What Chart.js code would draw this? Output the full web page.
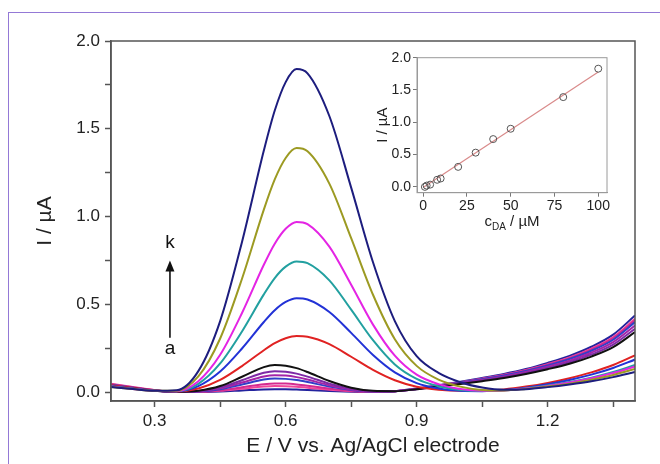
<!DOCTYPE html>
<html>
<head>
<meta charset="utf-8">
<script src="https://cdn.jsdelivr.net/npm/chart.js@4.4.1/dist/chart.umd.min.js"></script>
<style>
  html, body { margin: 0; padding: 0; background: #fff; }
  #wrap { position: relative; width: 660px; height: 464px; overflow: hidden; }
  #frame { position: absolute; left: 8px; top: 12px; width: 700px; height: 520px;
           border: 1.5px solid #9479d6; box-sizing: border-box; pointer-events: none; }
  #main { position: absolute; left: 0; top: 0; }
  #inset { position: absolute; left: 360px; top: 40px; }
</style>
</head>
<body>
<div id="wrap">
  <div id="frame"></div>
  <canvas id="main" width="660" height="464"></canvas>
  <canvas id="inset" width="260" height="200"></canvas>
</div>
<script>
// ---------- data ----------
const E = [0.20,0.25,0.30,0.35,0.40,0.45,0.50,0.55,0.575,0.60,0.625,0.65,0.70,0.75,0.80,0.85,0.90,0.95,1.00,1.05,1.10,1.15,1.20,1.25,1.30,1.35,1.40];

const curveBlank = [0.038,0.024,0.010,0.002,0.001,0.004,0.010,0.016,0.017,0.017,0.015,0.013,0.007,0.003,0.001,0.006,0.021,0.040,0.060,0.081,0.104,0.132,0.167,0.207,0.259,0.328,0.437];
const curvePink  = [0.048,0.030,0.012,0.002,0.002,0.008,0.020,0.032,0.035,0.034,0.031,0.026,0.014,0.006,0.002,0.006,0.020,0.039,0.057,0.077,0.099,0.127,0.160,0.198,0.248,0.314,0.418];
const curveA = [0.045,0.028,0.011,0.002,0.003,0.011,0.028,0.046,0.050,0.049,0.044,0.037,0.021,0.008,0.003,0.006,0.019,0.038,0.056,0.076,0.097,0.124,0.157,0.194,0.243,0.308,0.410];
const curveB = [0.042,0.026,0.010,0.002,0.004,0.017,0.044,0.072,0.078,0.076,0.069,0.058,0.032,0.013,0.004,0.006,0.019,0.037,0.055,0.074,0.095,0.121,0.152,0.189,0.236,0.299,0.399];
const curveC = [0.040,0.025,0.010,0.002,0.005,0.022,0.055,0.090,0.097,0.095,0.086,0.072,0.040,0.016,0.005,0.006,0.018,0.035,0.052,0.070,0.090,0.115,0.145,0.180,0.225,0.285,0.380];
const curveD = [0.037,0.023,0.009,0.003,0.007,0.027,0.068,0.111,0.120,0.117,0.106,0.089,0.049,0.020,0.006,0.006,0.017,0.033,0.049,0.067,0.086,0.109,0.138,0.171,0.214,0.271,0.361];
const curveE = [0.035,0.022,0.009,0.003,0.009,0.035,0.088,0.143,0.155,0.151,0.137,0.115,0.064,0.026,0.008,0.006,0.017,0.032,0.047,0.063,0.081,0.104,0.131,0.162,0.203,0.257,0.342];
const curveF = [0.040,0.024,0.010,0.004,0.021,0.070,0.149,0.239,0.279,0.307,0.320,0.316,0.274,0.202,0.127,0.068,0.031,0.014,0.008,0.008,0.016,0.032,0.053,0.080,0.113,0.155,0.210];
const curveG = [0.035,0.021,0.009,0.005,0.035,0.118,0.249,0.400,0.467,0.514,0.535,0.528,0.457,0.338,0.212,0.113,0.052,0.021,0.008,0.006,0.012,0.026,0.046,0.070,0.100,0.138,0.186];
const curveH = [0.033,0.020,0.008,0.006,0.048,0.164,0.346,0.557,0.650,0.715,0.745,0.735,0.637,0.470,0.296,0.158,0.076,0.034,0.013,0.007,0.010,0.022,0.038,0.058,0.083,0.115,0.155];
const curveI = [0.032,0.019,0.008,0.006,0.063,0.213,0.451,0.726,0.846,0.931,0.970,0.957,0.829,0.612,0.385,0.208,0.100,0.046,0.018,0.009,0.010,0.021,0.036,0.055,0.079,0.109,0.147];
const curveJ = [0.030,0.018,0.008,0.009,0.090,0.306,0.646,1.040,1.212,1.334,1.390,1.372,1.188,0.877,0.555,0.302,0.150,0.072,0.032,0.013,0.010,0.019,0.032,0.049,0.071,0.098,0.132];
const curveK = [0.030,0.018,0.008,0.011,0.120,0.405,0.856,1.376,1.604,1.766,1.840,1.816,1.573,1.165,0.740,0.405,0.205,0.110,0.057,0.027,0.014,0.017,0.029,0.044,0.062,0.086,0.115];

const xTickPositions = [0.3, 0.45, 0.6, 0.75, 0.9, 1.05, 1.2, 1.35];
const xMajorTicks = [0.3, 0.6, 0.9, 1.2];
const yMajorTicks = [0.0, 0.5, 1.0, 1.5, 2.0];

// inset
const cDA   = [1, 2, 4, 8, 10, 20, 30, 40, 50, 80, 100];
const Ipeak = [0.00, 0.02, 0.035, 0.11, 0.13, 0.31, 0.53, 0.74, 0.90, 1.39, 1.83];
const fitC  = [0, 100];
const fitI  = [-0.01, 1.78];
const insetXTicks = [0, 25, 50, 75, 100];
const insetYTicks = [0.0, 0.5, 1.0, 1.5, 2.0];

// ---------- styles ----------
const FONT = "'Liberation Sans', Arial, sans-serif";
const AXC = '#555';
const TXT = '#222';

const series = [
  { d: curveK, c: '#1d1d7e' },
  { d: curveJ, c: '#9c9a22' },
  { d: curveI, c: '#e424e4' },
  { d: curveH, c: '#22a0a0' },
  { d: curveG, c: '#2232d6' },
  { d: curveF, c: '#e02222' },
  { d: curveE, c: '#111111' },
  { d: curveD, c: '#7e2aa6' },
  { d: curveC, c: '#a424a8' },
  { d: curveB, c: '#3040c8' },
  { d: curveA, c: '#d42a90' },
  { d: curvePink, c: '#f0449a' },
  { d: curveBlank, c: '#23239e' }
];

const near = (v, arr) => arr.some(t => Math.abs(t - v) < 1e-6);

const frameBox = {
  id: 'frameBox',
  afterDatasetsDraw(chart, args, opts) {
    const { ctx, chartArea: a } = chart;
    ctx.save();
    ctx.strokeStyle = opts.color;
    ctx.lineWidth = opts.width;
    ctx.strokeRect(a.left, a.top, a.right - a.left, a.bottom - a.top);
    ctx.restore();
  }
};

const arrowNote = {
  id: 'arrowNote',
  afterDraw(chart) {
    const ctx = chart.ctx;
    const xs = chart.scales.x, ys = chart.scales.y;
    const x = xs.getPixelForValue(0.335);
    const yTop = ys.getPixelForValue(0.75);
    const yBot = ys.getPixelForValue(0.31);
    ctx.save();
    ctx.strokeStyle = '#111';
    ctx.fillStyle = '#111';
    ctx.lineWidth = 1.6;
    ctx.beginPath();
    ctx.moveTo(x, yBot);
    ctx.lineTo(x, yTop + 8);
    ctx.stroke();
    ctx.beginPath();
    ctx.moveTo(x, yTop);
    ctx.lineTo(x - 4.5, yTop + 11);
    ctx.lineTo(x + 4.5, yTop + 11);
    ctx.closePath();
    ctx.fill();
    ctx.font = '19px ' + FONT;
    ctx.textAlign = 'center';
    ctx.textBaseline = 'middle';
    ctx.fillText('k', x, ys.getPixelForValue(0.85));
    ctx.fillText('a', x, ys.getPixelForValue(0.245));
    ctx.restore();
  }
};

new Chart(document.getElementById('main'), {
  type: 'line',
  data: {
    datasets: series.map(s => ({
      data: E.map((x, i) => ({ x, y: s.d[i] })),
      borderColor: s.c,
      borderWidth: 2,
      pointRadius: 0,
      fill: false,
      cubicInterpolationMode: 'monotone'
    }))
  },
  options: {
    responsive: false,
    animation: false,
    devicePixelRatio: 1,
    layout: { padding: { left: 28, right: 25, top: 41, bottom: 0 } },
    plugins: { legend: { display: false }, tooltip: { enabled: false }, frameBox: { color: AXC, width: 1.5 } },
    scales: {
      x: {
        type: 'linear', min: 0.2, max: 1.4,
        afterFit: s => { s.height = 63; },
        afterBuildTicks: s => { s.ticks = xTickPositions.map(v => ({ value: v })); },
        border: { display: true, color: AXC, width: 1.5 },
        grid: { drawOnChartArea: false, drawTicks: true, tickLength: 6, tickColor: AXC, tickWidth: 1.5 },
        ticks: {
          autoSkip: false, maxRotation: 0,
          padding: 4, color: TXT, font: { family: FONT, size: 17 },
          callback: v => near(v, xMajorTicks) ? v.toFixed(1) : ''
        },
        title: { display: true, text: 'E / V vs. Ag/AgCl electrode', color: TXT,
                 font: { family: FONT, size: 21 }, padding: { top: 2, bottom: 5 } }
      },
      y: {
        type: 'linear', min: -0.05, max: 2.0,
        afterFit: s => { s.width = 83; },
        border: { display: true, color: AXC, width: 1.5 },
        grid: { drawOnChartArea: false, drawTicks: true, tickLength: 6, tickColor: AXC, tickWidth: 1.5 },
        ticks: {
          stepSize: 0.25, includeBounds: false, autoSkip: false,
          padding: 5, color: TXT, font: { family: FONT, size: 17 },
          callback: v => near(v, yMajorTicks) ? v.toFixed(1) : ''
        },
        title: { display: true, text: 'I / µA', color: TXT,
                 font: { family: FONT, size: 21 }, padding: { top: 5, bottom: 2 } }
      }
    }
  },
  plugins: [frameBox, arrowNote]
});

const insetXTitle = {
  id: 'insetXTitle',
  afterDraw(chart) {
    const ctx = chart.ctx;
    const a = chart.chartArea;
    const cx = (a.left + a.right) / 2;
    const y = a.bottom + 33;
    ctx.save();
    ctx.fillStyle = TXT;
    ctx.textBaseline = 'alphabetic';
    ctx.textAlign = 'left';
    const big = '15px ' + FONT, small = '10px ' + FONT;
    ctx.font = big; const w1 = ctx.measureText('c').width;
    ctx.font = small; const w2 = ctx.measureText('DA').width;
    ctx.font = big; const w3 = ctx.measureText(' / µM').width;
    let x = cx - (w1 + w2 + w3) / 2;
    ctx.font = big; ctx.fillText('c', x, y); x += w1;
    ctx.font = small; ctx.fillText('DA', x, y + 4); x += w2;
    ctx.font = big; ctx.fillText(' / µM', x, y);
    ctx.restore();
  }
};

new Chart(document.getElementById('inset'), {
  type: 'scatter',
  data: {
    datasets: [
      {
        data: cDA.map((c, i) => ({ x: c, y: Ipeak[i] })),
        pointStyle: 'circle', pointRadius: 3.5,
        backgroundColor: 'rgba(0,0,0,0)', borderColor: '#555', borderWidth: 1,
        showLine: false
      },
      {
        data: fitC.map((c, i) => ({ x: c, y: fitI[i] })),
        showLine: true, pointRadius: 0, borderColor: '#d98a8a', borderWidth: 1.2
      }
    ]
  },
  options: {
    responsive: false,
    animation: false,
    devicePixelRatio: 1,
    layout: { padding: { left: 12, right: 13, top: 17.7, bottom: 0 } },
    plugins: { legend: { display: false }, tooltip: { enabled: false }, frameBox: { color: '#9a9a9a', width: 1 } },
    scales: {
      x: {
        type: 'linear', min: -3.5, max: 105,
        afterFit: s => { s.height = 47.3; },
        border: { display: true, color: '#9a9a9a', width: 1 },
        grid: { drawOnChartArea: false, drawTicks: true, tickLength: 4, tickColor: '#777', tickWidth: 1 },
        ticks: {
          stepSize: 25, includeBounds: false, autoSkip: false, maxRotation: 0,
          padding: 1, color: TXT, font: { family: FONT, size: 14 },
          callback: v => near(v, insetXTicks) ? String(v) : ''
        }
      },
      y: {
        type: 'linear', min: -0.09, max: 2.0,
        afterFit: s => { s.width = 45; },
        border: { display: true, color: '#9a9a9a', width: 1 },
        grid: { drawOnChartArea: false, drawTicks: true, tickLength: 4, tickColor: '#777', tickWidth: 1 },
        ticks: {
          stepSize: 0.5, includeBounds: false, autoSkip: false,
          padding: 2, color: TXT, font: { family: FONT, size: 14 },
          callback: v => near(v, insetYTicks) ? v.toFixed(1) : ''
        },
        title: { display: true, text: 'I / µA', color: TXT,
                 font: { family: FONT, size: 15 }, padding: { top: 2, bottom: 2 } }
      }
    }
  },
  plugins: [frameBox, insetXTitle]
});
</script>
</body>
</html>
